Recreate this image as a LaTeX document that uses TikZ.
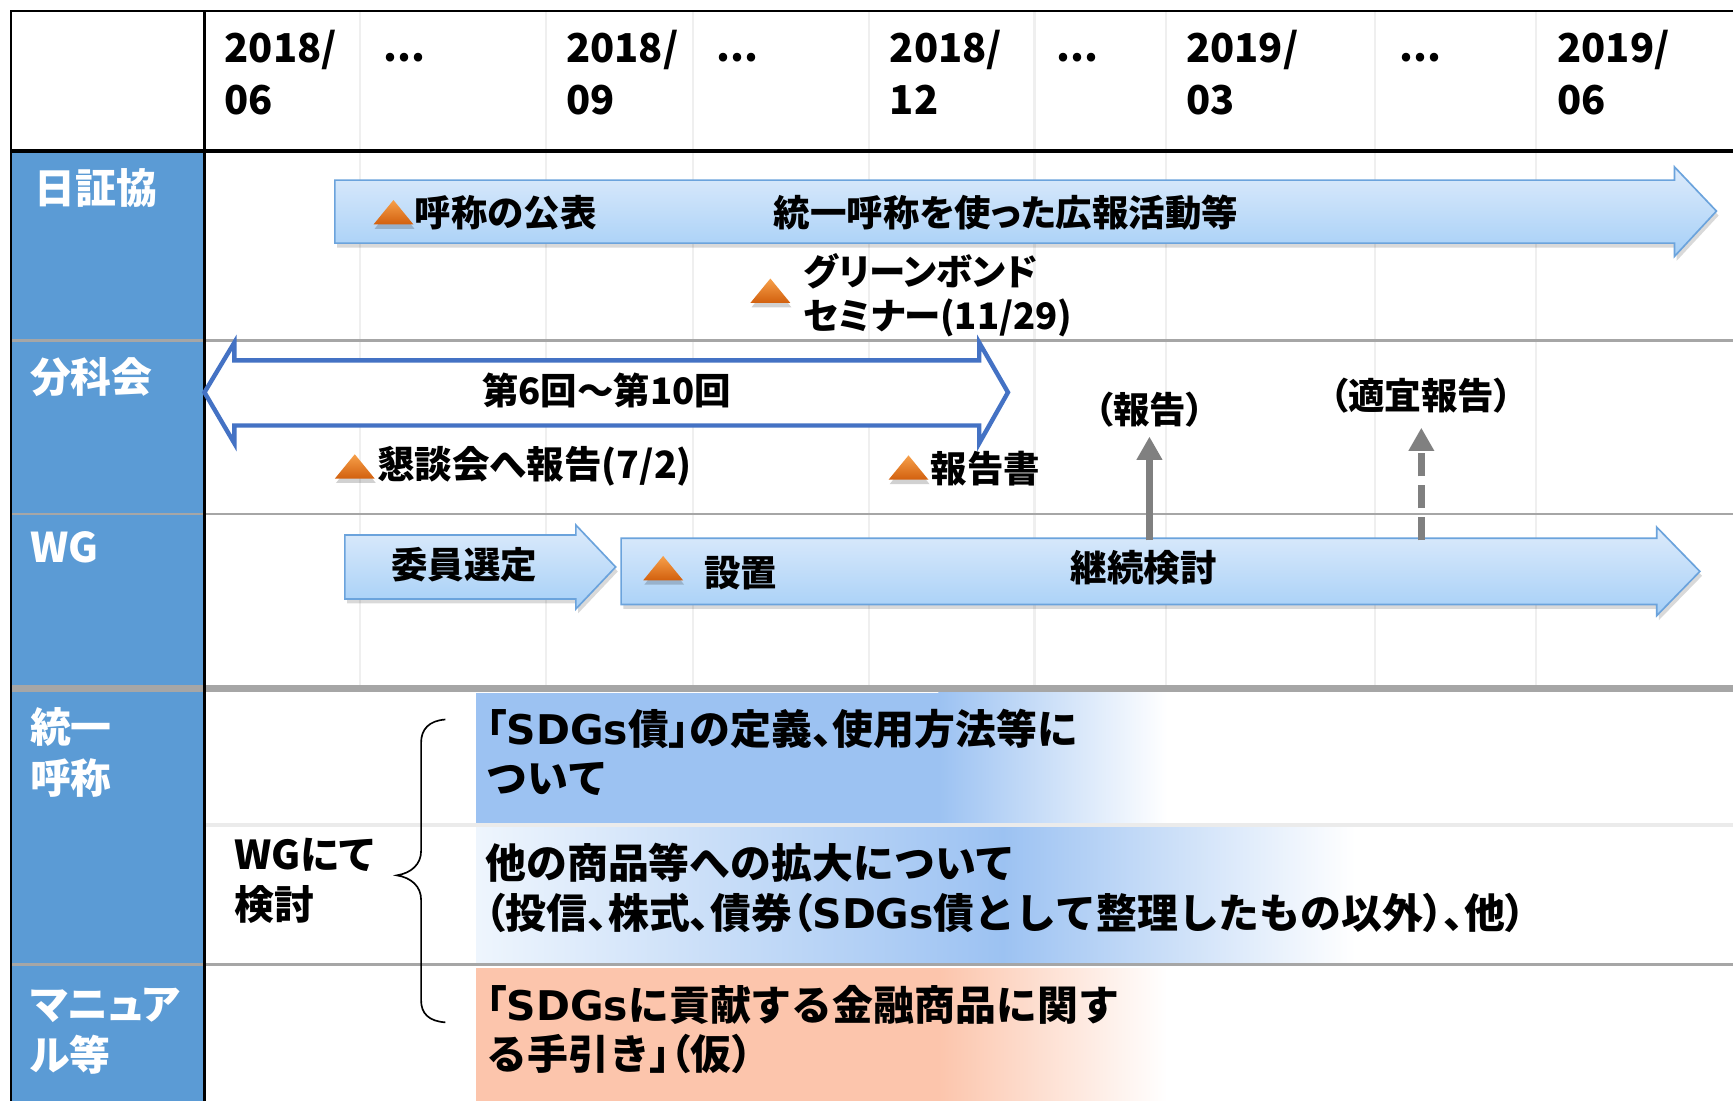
\documentclass[tikz,border=0pt]{standalone}
\usepackage{fontspec}
\setmainfont{Noto Sans CJK JP}[RawFeature=+palt]
\newfontfamily\jpfull{Noto Sans CJK JP}
\newfontfamily\latwide{DejaVu Sans}
\newcommand\pq[1]{{\normalfont\bfseries #1}}
\newcommand\sdgs{{\latwide\bfseries SDGs}}
\usetikzlibrary{arrows.meta}
\definecolor{colblue}{HTML}{5B9BD5}
\definecolor{sepgray}{HTML}{A6A6A6}
\definecolor{gridgray}{HTML}{EFEFEF}
\definecolor{barTop}{HTML}{DDEBFB}
\definecolor{barBot}{HTML}{A5CFF7}
\definecolor{barEdge}{HTML}{6BA3DC}
\definecolor{dblEdge}{HTML}{4472C4}
\definecolor{triTop}{HTML}{F7A04A}
\definecolor{triBot}{HTML}{D2600E}
\definecolor{rOne}{HTML}{9CC2F2}
\definecolor{rTwoL}{HTML}{EEF5FD}
\definecolor{rThree}{HTML}{FCC5AC}
\definecolor{arrGray}{HTML}{808080}
\definecolor{faint}{HTML}{EBEBEB}
\newcommand\mkTri[2]{%
  \fill[black,opacity=0.18] (#1+1,#2+26) -- (#1+19,#2+3) -- (#1+37,#2+26) -- cycle;
  \shade[top color=triTop,bottom color=triBot] (#1,#2+22) -- (#1+18,#2) -- (#1+36,#2+22) -- cycle;}
\tikzset{
  hdr/.style={font=\bfseries\fontsize{36}{47}\selectfont, anchor=north west, align=left, inner sep=0pt},
  side/.style={font=\bfseries\fontsize{37}{46}\selectfont, text=white, anchor=north west, align=left, inner sep=0pt},
  bartxt/.style={font=\bfseries\fontsize{33}{40}\selectfont, inner sep=0pt},
  bigtxt/.style={font=\jpfull\bfseries\fontsize{37}{45}\selectfont, anchor=north west, align=left, inner sep=0pt},
  barshape/.style={top color=barTop, bottom color=barBot, draw=barEdge, line width=1.5pt},
  shadowfill/.style={fill=black, opacity=0.15},
  sepline/.style={draw=sepgray, line width=2.5pt},
  frameline/.style={draw=black, line width=2.5pt},
  gridline/.style={draw=gridgray, line width=2pt},
  reparrow/.style={draw=arrGray, line width=6pt, -{Triangle[length=21pt,width=22pt]}},
}
\begin{document}
\begin{tikzpicture}[x=1pt,y=-1pt]
\useasboundingbox (0,0) rectangle (1568,996);
\fill[white] (0,0) rectangle (1568,996);
% grid lines
\foreach \gx in {326,494,627,786,936,1055,1244,1390}
  \draw[gridline] (\gx,10) -- (\gx,620);
% left column
\fill[colblue] (10,137) rectangle (185,996);
% lower gradient boxes
\fill[rOne] (431,627) rectangle (850,745);
\shade[left color=rOne,right color=white] (849,627) rectangle (1056,745);
\shade[left color=rTwoL,right color=rOne] (431,748) rectangle (908,872);
\shade[left color=rOne,right color=white] (907,748) rectangle (1226,872);
\fill[rThree] (431,876) rectangle (850,996);
\shade[left color=rThree,right color=white] (849,876) rectangle (1056,996);
\draw[draw=faint,line width=3pt] (185,746.5) -- (1568,746.5);
% separators
\draw[sepline] (10,308) -- (1568,308);
\draw[sepline] (10,465) -- (1568,465);
\draw[draw=sepgray,line width=6pt] (10,623) -- (1568,623);
\draw[sepline] (10,873) -- (1568,873);
% frame
\draw[frameline] (10,996) -- (10,10) -- (1568,10);
\draw[draw=black,line width=3pt] (10,136.5) -- (1568,136.5);
\draw[frameline] (185,10) -- (185,996);
% header texts
\node[hdr] (h1) at (203,27) {2018/\\06};
\node[hdr] (h2) at (512,27) {2018/\\09};
\node[hdr] (h3) at (805,27) {2018/\\12};
\node[hdr] (h4) at (1073,27) {2019/\\03};
\node[hdr] (h5) at (1409,27) {2019/\\06};
\node[hdr,anchor=base west] (e1) at (347,56) {...};
\node[hdr,anchor=base west] (e2) at (648,56) {...};
\node[hdr,anchor=base west] (e3) at (956,56) {...};
\node[hdr,anchor=base west] (e4) at (1266,56) {...};
% side labels
\node[side] (s1) at (31,152) {日証協};
\node[side] (s2) at (27,323) {分科会};
\node[side] (s3) at (27,481) {WG};
\node[side] (s4) at (27,640) {統一\\呼称};
\node[side] (s5) at (27,894) {マニュア\\ル等};
% top bar arrow
\fill[shadowfill,shift={(2,4)}] (303,163) -- (1515,163) -- (1515,151) -- (1553,191) -- (1515,232) -- (1515,220) -- (303,220) -- cycle;
\shadedraw[barshape] (303,163) -- (1515,163) -- (1515,151) -- (1553,191) -- (1515,232) -- (1515,220) -- (303,220) -- cycle;
\mkTri{338}{181}
\node[bartxt,anchor=west] (pub) at (375,192.5) {呼称の公表};
\node[bartxt,anchor=west] (pr) at (700,192) {統一呼称を使った広報活動等};
\mkTri{679}{252}
\node[bartxt,anchor=north west,align=left] (sem) at (727,229) {グリーンボンド\\セミナー(11/29)};
% double arrow
\filldraw[fill=white,draw=dblEdge,line width=4pt,line join=miter] (185,355) -- (212,310) -- (212,326) -- (886,326) -- (886,310) -- (912,355) -- (886,401) -- (886,385) -- (212,385) -- (212,401) -- cycle;
\node[bartxt] (meet) at (549,353) {第6回～第10回};
\mkTri{303}{411}
\node[bartxt,anchor=west,font=\bfseries\fontsize{34}{40}\selectfont] (kon) at (341,422) {懇談会へ報告(7/2)};
\mkTri{804}{412}
\node[bartxt,anchor=west] (rep) at (842,424) {報告書};
% WG arrows
\fill[shadowfill,shift={(2,4)}] (312,484) -- (521,484) -- (521,475) -- (557,513) -- (521,551) -- (521,542) -- (312,542) -- cycle;
\shadedraw[barshape] (312,484) -- (521,484) -- (521,475) -- (557,513) -- (521,551) -- (521,542) -- (312,542) -- cycle;
\node[bartxt] (sel) at (420,511) {委員選定};
\fill[shadowfill,shift={(2,4)}] (562,487) -- (1499,487) -- (1499,477) -- (1538,517) -- (1499,557) -- (1499,547) -- (562,547) -- cycle;
\shadedraw[barshape] (562,487) -- (1499,487) -- (1499,477) -- (1538,517) -- (1499,557) -- (1499,547) -- (562,547) -- cycle;
\mkTri{582}{503}
\node[bartxt,anchor=west] (est) at (637,519) {設置};
\node[bartxt] (cont) at (1035,514) {継続検討};
% report arrows
\node[bartxt] (repA) at (1040,371) {（報告）};
\node[bartxt] (repB) at (1286,358) {（適宜報告）};
\coordinate (repAfrom) at (1040,489);
\coordinate (repAto) at (1040,395);
\coordinate (repBfrom) at (1286,489);
\coordinate (repBto) at (1286,387);
\draw[reparrow] (repAfrom) -- (repAto);
\draw[reparrow,dash pattern=on 21pt off 8pt] (repBfrom) -- (repBto);
% lower section
\node[bigtxt] (l1) at (440,641) {\pq{「}\sdgs 債\pq{」}の定義\pq{、}使用方法等に\\ついて};
\node[bigtxt] (l2) at (439,763) {他の商品等への拡大について\\\pq{（}投信\pq{、}株式\pq{、}債券\pq{（}\sdgs 債として整理したもの以外\pq{）、}他\pq{）}};
\node[bigtxt,align=left] (l3) at (440,891) {\pq{「}\sdgs に貢献する金融商品に関す\\る手引き\pq{」（}仮\pq{）}};
\node[bigtxt,font=\bfseries\fontsize{36}{45}\selectfont] (wg) at (212,758) {WGにて\\検討};
\draw[line width=1.5pt] (403,651) .. controls (388,652) and (381,660) .. (381,672) -- (381,770) .. controls (381,782) and (372,790) .. (359,792) .. controls (372,794) and (381,802) .. (381,814) -- (381,905) .. controls (381,917) and (388,924) .. (403,925);
\end{tikzpicture}
\end{document}
